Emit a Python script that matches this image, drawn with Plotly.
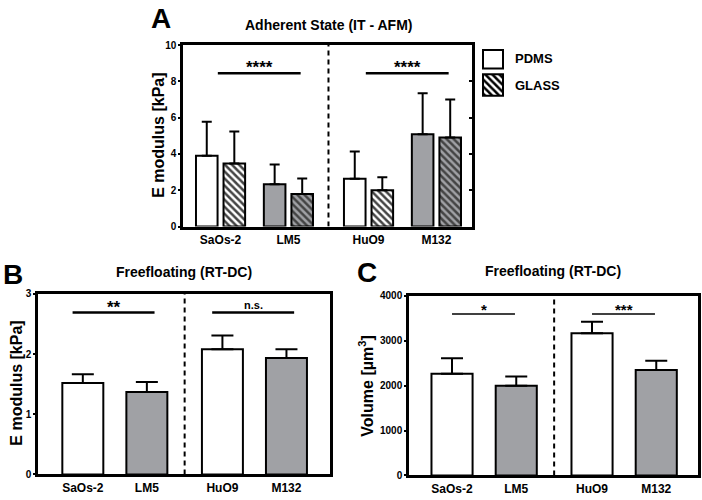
import plotly.graph_objects as go

# ---------------- data ----------------
categories = ["SaOs-2", "LM5", "HuO9", "M132"]

a_pdms = [3.90, 2.33, 2.63, 5.09]
a_pdms_sd = [1.88, 1.09, 1.51, 2.26]
a_glass = [3.47, 1.79, 2.00, 4.91]
a_glass_sd = [1.77, 0.86, 0.72, 2.09]

b_emod = [1.52, 1.37, 2.08, 1.935]
b_emod_sd = [0.145, 0.165, 0.23, 0.145]

c_vol = [2264, 1996, 3168, 2351]
c_vol_sd = [347, 210, 253, 202]

a_sig = ["****", "****"]
b_sig = ["**", "n.s."]
c_sig = ["*", "***"]

legend_labels = ["PDMS", "GLASS"]

# ---------------- style / layout constants ----------------
W, H = 702, 500
FONT = "Liberation Sans, Arial, sans-serif"
GRAY = "#a0a1a5"
fills = ["white", GRAY, "white", GRAY]
POS = [0, 1, 2.18, 3.18]
DIV = 1.59


def px_x(a, b):
    return [a / W, b / W]


def px_y(top, bottom):
    return [1 - bottom / H, 1 - top / H]


fig = go.Figure()

ebar = dict(type="data", symmetric=False, color="black", thickness=2)
hatch = dict(shape="\\", fgcolor="black", fgopacity=1, size=5, solidity=0.5)

# ---- Panel A ----
fig.add_trace(go.Bar(
    x=POS, y=a_pdms, offset=-0.362, width=0.318,
    marker=dict(color=fills, line=dict(color="black", width=2)),
    error_y=dict(ebar, array=a_pdms_sd, arrayminus=[0] * 4, width=5),
    xaxis="x", yaxis="y", showlegend=False))
fig.add_trace(go.Bar(
    x=POS, y=a_glass, offset=0.044, width=0.318,
    marker=dict(color=fills, line=dict(color="black", width=2),
                pattern=dict(hatch, bgcolor=fills)),
    error_y=dict(ebar, array=a_glass_sd, arrayminus=[0] * 4, width=5),
    xaxis="x", yaxis="y", showlegend=False))

# ---- Panel B ----
fig.add_trace(go.Bar(
    x=POS, y=b_emod, width=0.64,
    marker=dict(color=fills, line=dict(color="black", width=2)),
    error_y=dict(ebar, array=b_emod_sd, arrayminus=[0] * 4, width=11),
    xaxis="x2", yaxis="y2", showlegend=False))

# ---- Panel C ----
fig.add_trace(go.Bar(
    x=POS, y=c_vol, width=0.64,
    marker=dict(color=fills, line=dict(color="black", width=2)),
    error_y=dict(ebar, array=c_vol_sd, arrayminus=[0] * 4, width=11),
    xaxis="x3", yaxis="y3", showlegend=False))

# ---- legend keys (own small axis) ----
fig.add_trace(go.Bar(
    x=[0], y=[19], base=[28], width=1,
    marker=dict(color="white", line=dict(color="black", width=2)),
    xaxis="x4", yaxis="y4", showlegend=False, hoverinfo="skip"))
fig.add_trace(go.Bar(
    x=[0], y=[22], base=[0], width=1,
    marker=dict(color="white", line=dict(color="black", width=2),
                pattern=dict(hatch, bgcolor="white")),
    xaxis="x4", yaxis="y4", showlegend=False, hoverinfo="skip"))

# inner right ticks of panel A
fig.add_trace(go.Scatter(x=[None], y=[None], xaxis="x", yaxis="y5", showlegend=False,
                         hoverinfo="skip"))

axis_common = dict(showline=True, linecolor="black", linewidth=2.5, mirror=True,
                   showgrid=False, zeroline=False)

xax = dict(axis_common, tickmode="array", tickvals=POS, ticktext=categories, ticks="",
           tickfont=dict(family=FONT, size=12, color="black", weight="bold"))
yax = dict(axis_common, ticks="outside", ticklen=2, tickwidth=2, tickcolor="black",
           tickfont=dict(family=FONT, size=10, color="black", weight="bold"))

fig.update_layout(
    width=W, height=H, margin=dict(l=0, r=0, t=0, b=0),
    paper_bgcolor="white", plot_bgcolor="white", barmode="overlay",
    xaxis=dict(xax, domain=px_x(183, 472), range=[-0.553, 3.704], anchor="y"),
    yaxis=dict(yax, domain=px_y(40, 226), range=[0, 10], dtick=2, anchor="x"),
    xaxis2=dict(xax, domain=px_x(38, 330), range=[-0.70, 3.86], anchor="y2"),
    yaxis2=dict(yax, domain=px_y(295, 480), range=[0, 3], dtick=1, anchor="x2"),
    xaxis3=dict(xax, domain=px_x(409, 698), range=[-0.67, 3.83], anchor="y3"),
    yaxis3=dict(yax, domain=px_y(297, 481), range=[0, 4000], dtick=1000, anchor="x3"),
    xaxis4=dict(domain=px_x(480, 506), range=[-0.65, 0.65], visible=False, anchor="y4"),
    yaxis4=dict(domain=px_y(43, 94), range=[-2, 49], visible=False, anchor="x4"),
    yaxis5=dict(overlaying="y", side="right", anchor="x", range=[0, 10], dtick=2,
                ticks="inside", ticklen=3, tickwidth=2, tickcolor="black",
                showticklabels=False, showline=False, showgrid=False, zeroline=False),
)

# dashed dividers
for xr, yr, top in [("x", "y", 10), ("x2", "y2", 3), ("x3", "y3", 4000)]:
    fig.add_shape(type="line", xref=xr, yref=yr, x0=DIV, x1=DIV, y0=0, y1=top,
                  line=dict(color="black", width=2, dash="5px,4px"))

# significance bars
sig_specs = [
    ("x", "y", a_sig, 8.44, (-0.04, 0.18), 2.5, 17),
    ("x2", "y2", b_sig, 2.69, (-0.16, 0.12), 2.5, 17),
    ("x3", "y3", c_sig, 3595, (0.0, -0.02), 1.5, 15),
]
for xr, yr, labels, yline, (o0, o1), lw, fs in sig_specs:
    for k, lab in enumerate(labels):
        x0 = POS[2 * k] + o0
        x1 = POS[2 * k + 1] + o1
        fig.add_shape(type="line", xref=xr, yref=yr, x0=x0, x1=x1, y0=yline, y1=yline,
                      line=dict(color="black", width=lw))
        is_ns = lab == "n.s."
        fig.add_annotation(xref=xr, yref=yr, x=(x0 + x1) / 2, y=yline,
                           text=lab, showarrow=False, yanchor="bottom",
                           yshift=-6 if not is_ns else 0,
                           font=dict(family=FONT, size=11 if is_ns else fs,
                                     color="black", weight="bold"))


def ann(x, y, text, size, angle=0, xanchor="center"):
    fig.add_annotation(xref="paper", yref="paper", x=x / W, y=1 - y / H, text=text,
                       showarrow=False, textangle=angle, xanchor=xanchor, yanchor="middle",
                       font=dict(family=FONT, size=size, color="black", weight="bold"))


# panel titles
ann(328, 19, "Adherent State (IT - AFM)", 14)
ann(184, 273, "Freefloating (RT-DC)", 14)
ann(553, 272, "Freefloating (RT-DC)", 14)
# panel letters
ann(161, 13, "A", 28)
ann(13, 275, "B", 28)
ann(367, 273, "C", 28)
# y-axis titles
ann(159, 133, "E modulus [kPa]", 16, angle=-90)
ann(17, 387, "E modulus [kPa]", 16, angle=-90)
ann(366, 390, "Volume [µm<sup>3</sup>]", 16, angle=-90)
# legend labels
ann(513, 54, legend_labels[0], 13, xanchor="left")
ann(513, 81, legend_labels[1], 13, xanchor="left")

fig.write_html("out.html", config={"displayModeBar": False},
               post_script="document.body.style.margin='0';document.body.style.padding='0';")
